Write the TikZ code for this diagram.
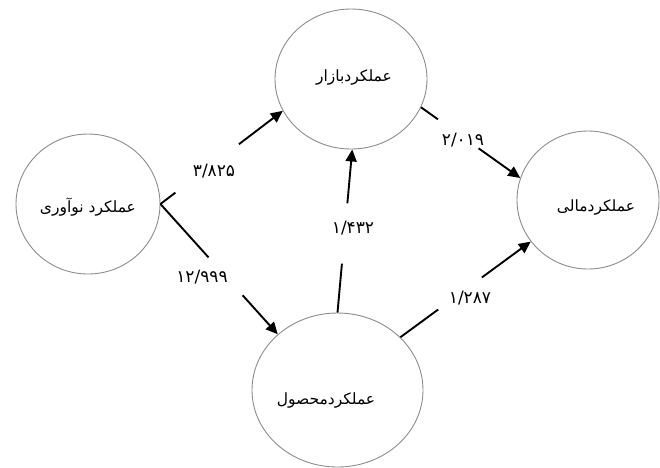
\documentclass[tikz,border=0pt]{standalone}
\usepackage{fontspec}
\usetikzlibrary{arrows.meta,shapes.geometric}
\newfontfamily\arabicfont[Script=Arabic]{DejaVu Sans}
\TeXXeTstate=1
\tikzset{
  circ/.style={ellipse, draw=gray!90, line width=0.9pt, inner sep=0pt},
  conn/.style={line width=1.9pt, black},
  arr/.style={conn, -{Triangle[length=12pt,width=11pt]}},
  lbl/.style={font=\arabicfont\fontsize{15.5}{18}\selectfont, inner sep=0pt},
  num/.style={font=\arabicfont\fontsize{17}{20}\selectfont, inner sep=0pt}
}
\begin{document}
\begin{tikzpicture}[x=1pt,y=-1pt]
\useasboundingbox (0,0) rectangle (660,467);
\node[circ, minimum width=144pt, minimum height=140pt] (L) at (88,204) {};
\node[circ, minimum width=152pt, minimum height=140pt] (T) at (351,79) {};
\node[circ, minimum width=142pt, minimum height=138pt] (R) at (588,200) {};
\node[circ, minimum width=171pt, minimum height=154pt] (B) at (337.5,390) {};
\node[lbl] (tL) at (88,207) {\beginR عملکرد نوآوری\endR};
\node[lbl] (tT) at (354,77) {\beginR عملکردبازار\endR};
\node[lbl] (tR) at (596,207) {\beginR عملکردمالی\endR};
\node[lbl] (tB) at (326,400) {\beginR عملکردمحصول\endR};
% edge 1
\path (L.east) -- (T.205) coordinate[pos=0.122] (g1a) coordinate[pos=0.642] (g1b);
\draw[conn] (L.east) -- (g1a);
\draw[arr] (g1b) -- (T.205);
% edge 2
\path (L.east) -- (B.137.5) coordinate[pos=0.41] (g2a) coordinate[pos=0.70] (g2b);
\draw[conn] (L.east) -- (g2a);
\draw[arr] (g2b) -- (B.137.5);
% edge 3
\path (B.north) -- (T.271.6) coordinate[pos=0.30] (g3a) coordinate[pos=0.67] (g3b);
\draw[conn] (B.north) -- (g3a);
\draw[arr] (g3b) -- (T.271.6);
% edge 4
\path (T.338) -- (R.162.6) coordinate[pos=0.17] (g4a) coordinate[pos=0.58] (g4b);
\draw[conn] (T.338) -- (g4a);
\draw[arr] (g4b) -- (R.162.6);
% edge 5
\path (B.40.6) -- (R.216.9) coordinate[pos=0.29] (g5a) coordinate[pos=0.625] (g5b);
\draw[conn] (B.40.6) -- (g5a);
\draw[arr] (g5b) -- (R.216.9);
% labels
\node[num] (n1) at (214,171) {۳/۸۲۵};
\node[num] (n2) at (202,277) {۱۲/۹۹۹};
\node[num] (n3) at (353,228) {۱/۴۳۲};
\node[num] (n4) at (463,140) {۲/۰۱۹};
\node[num] (n5) at (470,298) {۱/۲۸۷};
\end{tikzpicture}
\end{document}
